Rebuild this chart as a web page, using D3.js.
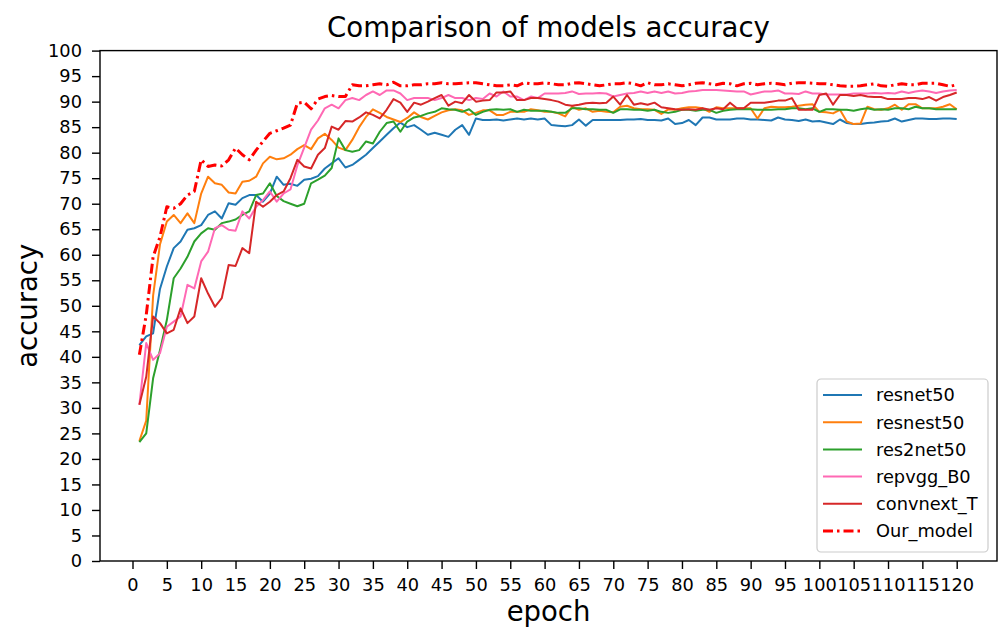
<!DOCTYPE html>
<html lang="en">
<head>
<meta charset="UTF-8">
<title>Comparison of models accuracy</title>
<script src="https://cdn.jsdelivr.net/npm/d3@7"></script>
<style>
  body { margin: 0; background: #fff; }
  text { font-family: 'DejaVu Sans', sans-serif; fill: #000; }
  .tick text { font-size: 17.8px; }
  .tick line { stroke: #000; stroke-width: 1.4px; }
  .domain { display: none; }
</style>
</head>
<body>
<script>

// epochs 1..120
var epochs = d3.range(1, 121);

var resnet50 = [42.3,44.0,44.6,53.3,57.7,61.3,62.6,64.9,65.2,65.8,67.8,68.5,67.1,70.1,69.8,71.1,71.7,71.7,70.4,72.0,
  75.3,73.7,73.9,73.5,74.7,74.9,75.4,76.9,77.9,78.9,77.1,77.6,78.6,79.6,80.9,82.2,83.5,84.8,85.9,85.0,
  85.4,84.5,83.5,83.9,83.5,83.1,84.5,85.4,83.5,86.7,86.4,86.4,86.5,86.3,86.5,86.7,86.5,86.7,86.5,86.7,
  85.4,85.3,85.2,85.4,86.5,85.3,86.4,86.4,86.4,86.4,86.4,86.5,86.5,86.6,86.4,86.4,86.3,86.7,85.6,85.8,
  86.4,85.4,86.9,86.9,86.5,86.5,86.5,86.7,86.7,86.5,86.5,86.4,86.3,86.9,86.5,86.4,86.2,86.5,86.1,86.2,
  85.9,85.6,86.5,85.8,85.6,85.6,85.8,85.9,86.1,86.2,86.7,86.1,86.4,86.7,86.7,86.6,86.6,86.7,86.7,86.6];

var resnest50 = [23.5,27.5,52.0,62.0,66.5,67.8,66.2,68.1,66.2,72.0,75.3,74.0,73.7,72.2,72.0,74.3,74.5,75.3,77.9,79.2,
  78.7,78.9,79.6,80.7,81.5,80.7,82.8,83.7,82.5,81.0,80.5,82.5,85.0,87.0,88.5,87.8,87.0,86.5,86.0,86.8,
  87.9,87.0,86.5,87.2,87.9,88.3,88.5,88.3,87.4,87.8,88.3,88.3,87.4,87.4,88.0,88.0,88.0,88.5,88.3,88.0,
  88.0,87.7,87.1,89.0,88.4,88.7,88.0,88.2,88.0,87.9,89.0,89.2,88.7,88.5,88.5,88.4,87.6,88.5,88.4,88.7,
  88.9,88.9,88.7,88.0,88.9,88.7,88.7,88.7,88.7,88.7,86.7,88.7,89.0,88.9,88.9,89.0,89.2,89.4,89.5,88.0,
  87.9,87.7,88.4,86.1,85.6,85.7,89.0,88.5,88.4,88.7,89.4,88.4,89.5,89.5,88.7,88.7,88.7,89.0,89.5,88.5];

var res2net50 = [23.3,25.0,35.8,41.3,47.2,55.4,57.3,59.6,62.6,64.2,65.2,64.9,66.2,66.5,66.9,67.8,68.5,71.7,72.0,74.0,
  71.5,70.5,70.0,69.5,70.0,74.0,74.7,75.5,77.0,82.8,80.5,80.2,80.5,82.2,81.8,84.1,85.8,86.1,84.1,86.1,
  86.9,87.2,87.7,88.0,88.7,88.5,88.4,88.0,88.5,87.4,88.0,88.4,88.5,88.4,88.5,88.0,88.4,88.2,88.2,88.2,
  88.0,87.8,87.8,88.7,88.7,88.5,88.5,88.4,88.4,87.8,88.5,88.5,88.4,88.4,88.2,88.4,88.0,87.8,88.0,88.4,
  88.4,88.2,88.4,88.4,87.8,88.2,88.4,88.5,88.5,88.5,88.4,88.4,88.4,88.5,88.5,88.7,88.7,88.5,88.7,88.0,
  88.5,88.5,88.4,88.4,88.2,88.5,88.7,88.4,88.5,88.4,88.7,88.7,88.5,89.0,88.7,88.7,88.5,88.5,88.5,88.5];

var repvgg_B0 = [30.6,42.7,39.4,40.7,45.9,46.9,47.9,54.1,53.4,58.7,60.6,65.2,65.8,64.9,64.7,68.5,67.1,69.4,70.7,72.4,
  70.4,72.0,72.8,77.5,81.0,84.5,86.3,88.7,89.4,88.7,90.3,90.7,90.3,91.3,92.0,91.3,92.2,92.2,91.6,90.3,
  90.7,90.7,90.7,90.3,90.7,91.3,90.7,90.7,90.3,90.7,90.5,91.6,91.0,92.0,91.0,91.0,90.3,91.0,90.7,91.6,
  91.6,91.6,91.7,92.0,91.5,91.6,91.6,91.7,91.6,91.0,91.3,91.6,91.7,92.0,91.7,92.0,91.7,92.0,91.6,91.7,
  92.0,92.1,92.3,92.3,92.3,92.2,92.1,92.0,92.0,91.4,91.7,92.0,92.0,92.2,91.6,91.6,91.5,92.0,91.6,91.6,
  91.4,91.4,91.4,91.4,91.6,91.6,91.6,91.7,91.6,91.7,91.6,92.0,91.7,92.0,92.2,92.0,91.7,92.0,92.2,92.3];

var convnext_T = [30.6,36.1,47.9,46.6,44.6,45.3,49.5,46.6,47.9,55.4,52.4,49.8,51.5,58.0,57.8,61.3,60.3,70.4,69.4,70.4,
  71.7,72.4,75.0,78.6,77.3,76.9,79.6,80.9,85.1,84.5,86.2,86.1,86.9,87.9,87.4,86.7,88.4,90.5,89.8,88.0,
  89.8,89.4,90.0,90.7,91.3,89.2,90.0,89.7,91.3,90.0,90.2,90.3,91.8,91.8,92.0,90.3,90.3,90.7,90.7,90.5,
  90.3,90.0,89.4,89.2,89.4,89.7,89.8,89.7,89.8,91.0,89.4,91.3,89.4,89.7,89.4,89.8,88.9,88.7,88.5,88.4,
  88.5,88.4,88.7,88.4,88.7,88.5,89.8,88.7,88.7,89.8,89.8,89.8,90.0,90.2,90.2,90.7,88.4,88.4,88.4,91.3,
  91.6,89.4,91.3,91.3,91.1,91.3,91.0,90.9,90.9,90.5,90.5,90.5,90.7,90.7,90.5,90.9,90.2,90.9,91.3,91.8];

var Our_model = [40.4,48.2,59.6,63.5,69.4,69.1,70.0,71.7,72.4,78.6,77.3,77.6,77.4,78.6,80.9,79.6,78.6,80.5,82.2,83.8,
  84.3,84.8,85.4,89.7,89.9,88.6,90.5,91.0,91.2,91.0,91.0,93.3,93.1,93.1,93.3,93.5,93.3,93.8,93.1,93.1,
  93.3,93.3,93.5,93.5,93.7,93.5,93.5,93.6,93.7,93.7,93.5,93.3,93.1,93.1,93.3,93.1,93.7,93.5,93.5,93.7,
  93.5,93.3,93.3,93.6,93.7,93.5,93.3,93.1,93.3,93.5,93.5,93.7,93.5,93.1,93.7,93.3,93.3,93.5,93.3,93.1,
  93.3,93.6,93.7,93.5,93.3,93.6,93.5,93.1,93.5,93.6,93.3,93.5,93.6,93.5,93.3,93.6,93.7,93.7,93.6,93.5,
  93.5,93.3,93.1,93.0,93.0,93.1,93.3,93.5,93.1,93.0,93.3,93.5,93.3,93.3,93.6,93.6,93.6,93.3,93.0,93.3];

var xTicks = d3.range(0, 121, 5);
var yTicks = d3.range(0, 101, 5);

var series = [
  { name: "resnet50",   values: resnet50,   color: "#1f77b4" },
  { name: "resnest50",  values: resnest50,  color: "#ff7f0e" },
  { name: "res2net50",  values: res2net50,  color: "#2ca02c" },
  { name: "repvgg_B0",  values: repvgg_B0,  color: "#ff69b4" },
  { name: "convnext_T", values: convnext_T, color: "#d62728" },
  { name: "Our_model",  values: Our_model,  color: "#ff0000", dash: true }
];

var width = 1000, height = 628;
var box = { left: 100, right: 997, top: 50.6, bottom: 561 };

var svg = d3.select("body").append("svg").attr("width", width).attr("height", height);
svg.append("rect").attr("width", width).attr("height", height).attr("fill", "#fff");

var x = d3.scaleLinear().domain([0, 120]).range([132.5, 956.7]);
var y = d3.scaleLinear().domain([0, 100]).range([box.bottom, box.top]);

// axes
svg.append("g").attr("transform", "translate(0," + box.bottom + ")")
  .call(d3.axisBottom(x).tickValues(xTicks).tickSize(8).tickPadding(9).tickFormat(d3.format("d")));
svg.append("g").attr("transform", "translate(" + box.left + ",0)")
  .call(d3.axisLeft(y).tickValues(yTicks).tickSize(8).tickPadding(10).tickFormat(d3.format("d")));

// lines
var line = d3.line()
  .x(function(d, i) { return x(epochs[i]); })
  .y(function(d) { return y(d); });

svg.append("defs").append("clipPath").attr("id", "clip")
  .append("rect").attr("x", box.left).attr("y", box.top)
  .attr("width", box.right - box.left).attr("height", box.bottom - box.top);

var plot = svg.append("g").attr("clip-path", "url(#clip)");
series.forEach(function(s) {
  plot.append("path").datum(s.values)
    .attr("d", line)
    .attr("fill", "none")
    .attr("stroke", s.color)
    .attr("stroke-width", s.dash ? 3 : 2)
    .attr("stroke-dasharray", s.dash ? "10,4,2.5,4" : null)
    .attr("stroke-linejoin", "round");
});

// frame
svg.append("rect")
  .attr("x", box.left).attr("y", box.top)
  .attr("width", box.right - box.left).attr("height", box.bottom - box.top)
  .attr("fill", "none").attr("stroke", "#000").attr("stroke-width", 1.4);

// title and labels
svg.append("text").attr("x", (box.left + box.right) / 2).attr("y", 37)
  .attr("text-anchor", "middle").style("font-size", "27.6px")
  .text("Comparison of models accuracy");
svg.append("text").attr("x", (box.left + box.right) / 2).attr("y", 621)
  .attr("text-anchor", "middle").style("font-size", "27.5px")
  .text("epoch");
svg.append("text")
  .attr("transform", "translate(37," + ((box.top + box.bottom) / 2) + ") rotate(-90)")
  .attr("text-anchor", "middle").style("font-size", "27.5px")
  .text("accuracy");

// legend
var lg = svg.append("g").attr("transform", "translate(817,379)");
lg.append("rect").attr("width", 171).attr("height", 173).attr("rx", 4)
  .attr("fill", "#fff").attr("fill-opacity", 0.8)
  .attr("stroke", "#cccccc").attr("stroke-width", 1.2);
series.forEach(function(s, i) {
  var ry = 16 + i * 27.2;
  lg.append("line").attr("x1", 6).attr("x2", 45).attr("y1", ry).attr("y2", ry)
    .attr("stroke", s.color)
    .attr("stroke-width", s.dash ? 3 : 2)
    .attr("stroke-dasharray", s.dash ? "10,4,2.5,4" : null);
  lg.append("text").attr("x", 59).attr("y", ry).attr("dy", "0.36em")
    .style("font-size", "17.8px").text(s.name);
});

</script>
</body>
</html>
